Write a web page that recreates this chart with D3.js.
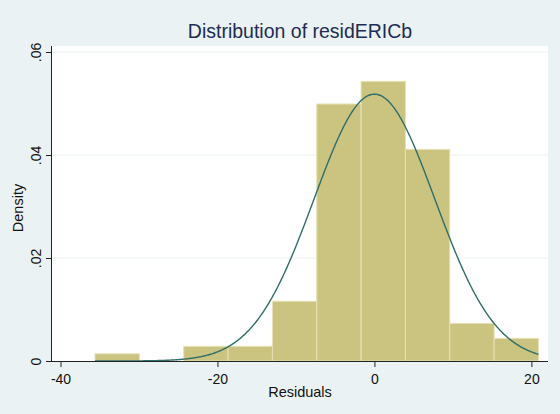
<!DOCTYPE html>
<html>
<head>
<meta charset="utf-8">
<script src="https://cdn.jsdelivr.net/npm/d3@7"></script>
<style>
  body { margin: 0; background: #eaf2f3; }
  svg { display: block; font-family: "Liberation Sans", Arial, sans-serif; }
  .axis path, .axis line { stroke: #222; }
  .axis text { fill: #111; font-size: 14px; }
</style>
</head>
<body>
<div id="chart"></div>
<script>
// histogram bins (lower edge, upper edge) and densities
var binStarts = [-35.6, -29.95, -24.3, -18.65, -13.0, -7.35, -1.7, 3.95, 9.6, 15.25];
var binWidth = 5.65;
var densities = [0.0014, 0, 0.00285, 0.00285, 0.0116, 0.0499, 0.0543, 0.0411, 0.0073, 0.0044];
// normal overlay
var normMean = 0;
var normSd = 7.7;
var xTicks = [-40, -20, 0, 20];
var yTicks = [0, 0.02, 0.04, 0.06];

var width = 560, height = 414;
var margins = { left: 52, right: 12, top: 46, bottom: 53 };

var svg = d3.select("#chart").append("svg")
    .attr("width", width)
    .attr("height", height);

svg.append("rect")
    .attr("width", width).attr("height", height)
    .attr("fill", "#eaf2f3");

// plot region
svg.append("rect")
    .attr("x", margins.left)
    .attr("y", margins.top)
    .attr("width", width - margins.left - margins.right)
    .attr("height", height - margins.top - margins.bottom)
    .attr("fill", "#fff");

var x = d3.scaleLinear().domain([-40, 20]).range([60.5, 531.4]);
var y = d3.scaleLinear().domain([0, 0.06]).range([361, 52]);

// gridlines
svg.append("g").selectAll("line")
  .data(yTicks.slice(1))
  .enter().append("line")
    .attr("x1", margins.left).attr("x2", width - margins.right)
    .attr("y1", function(d) { return y(d); })
    .attr("y2", function(d) { return y(d); })
    .attr("stroke", "#eaf2f3")
    .attr("stroke-width", 1);

// bars
svg.append("g").selectAll("rect")
  .data(binStarts)
  .enter().append("rect")
    .attr("x", function(d) { return x(d); })
    .attr("width", function(d) { return x(d + binWidth) - x(d); })
    .attr("y", function(d, i) { return y(densities[i]); })
    .attr("height", function(d, i) { return y(0) - y(densities[i]); })
    .attr("fill", "#cbc380")
    .attr("stroke", function(d, i) { return densities[i] > 0 ? "#e6e1b6" : "none"; })
    .attr("stroke-width", 1);

// normal density curve over the data range
var lo = binStarts[0], hi = binStarts[binStarts.length - 1] + binWidth;
var curveX = d3.range(lo, hi, 0.1).concat([hi]);
var line = d3.line()
    .x(function(d) { return x(d); })
    .y(function(d) {
      var z = (d - normMean) / normSd;
      return y(Math.exp(-0.5 * z * z) / (normSd * Math.sqrt(2 * Math.PI)));
    });
svg.append("path")
    .datum(curveX)
    .attr("d", line)
    .attr("fill", "none")
    .attr("stroke", "#2f6e69")
    .attr("stroke-width", 1.4);

// axes
var xAxis = svg.append("g")
    .attr("class", "axis")
    .attr("transform", "translate(0,361)")
    .call(d3.axisBottom(x).tickValues(xTicks).tickSize(6).tickSizeOuter(0)
      .tickFormat(function(d) { return String(d); }));
xAxis.select(".domain").attr("d", "M" + margins.left + ",0.5H" + (width - margins.right));
xAxis.selectAll("text").attr("dy", "1.0em");

var yAxis = svg.append("g")
    .attr("class", "axis")
    .attr("transform", "translate(" + margins.left + ",0)")
    .call(d3.axisLeft(y).tickValues(yTicks).tickSize(6).tickSizeOuter(0)
      .tickFormat(function(d) { return d === 0 ? "0" : d3.format(".2f")(d).replace(/^0/, ""); }));
yAxis.select(".domain").attr("d", "M-0.5," + margins.top + "V361");
yAxis.selectAll("text")
    .attr("text-anchor", "middle")
    .attr("transform", "translate(-11,0) rotate(-90)")
    .attr("x", 0).attr("y", 0).attr("dy", "0");

// title and axis titles
svg.append("text")
    .attr("x", 300).attr("y", 38)
    .attr("text-anchor", "middle")
    .attr("fill", "#1e2d52")
    .style("font-size", "19.5px")
    .text("Distribution of residERICb");

svg.append("text")
    .attr("x", 300).attr("y", 397)
    .attr("text-anchor", "middle")
    .attr("fill", "#111")
    .style("font-size", "14.5px")
    .text("Residuals");

svg.append("text")
    .attr("transform", "translate(23,208) rotate(-90)")
    .attr("text-anchor", "middle")
    .attr("fill", "#111")
    .style("font-size", "14.5px")
    .text("Density");
</script>
</body>
</html>
